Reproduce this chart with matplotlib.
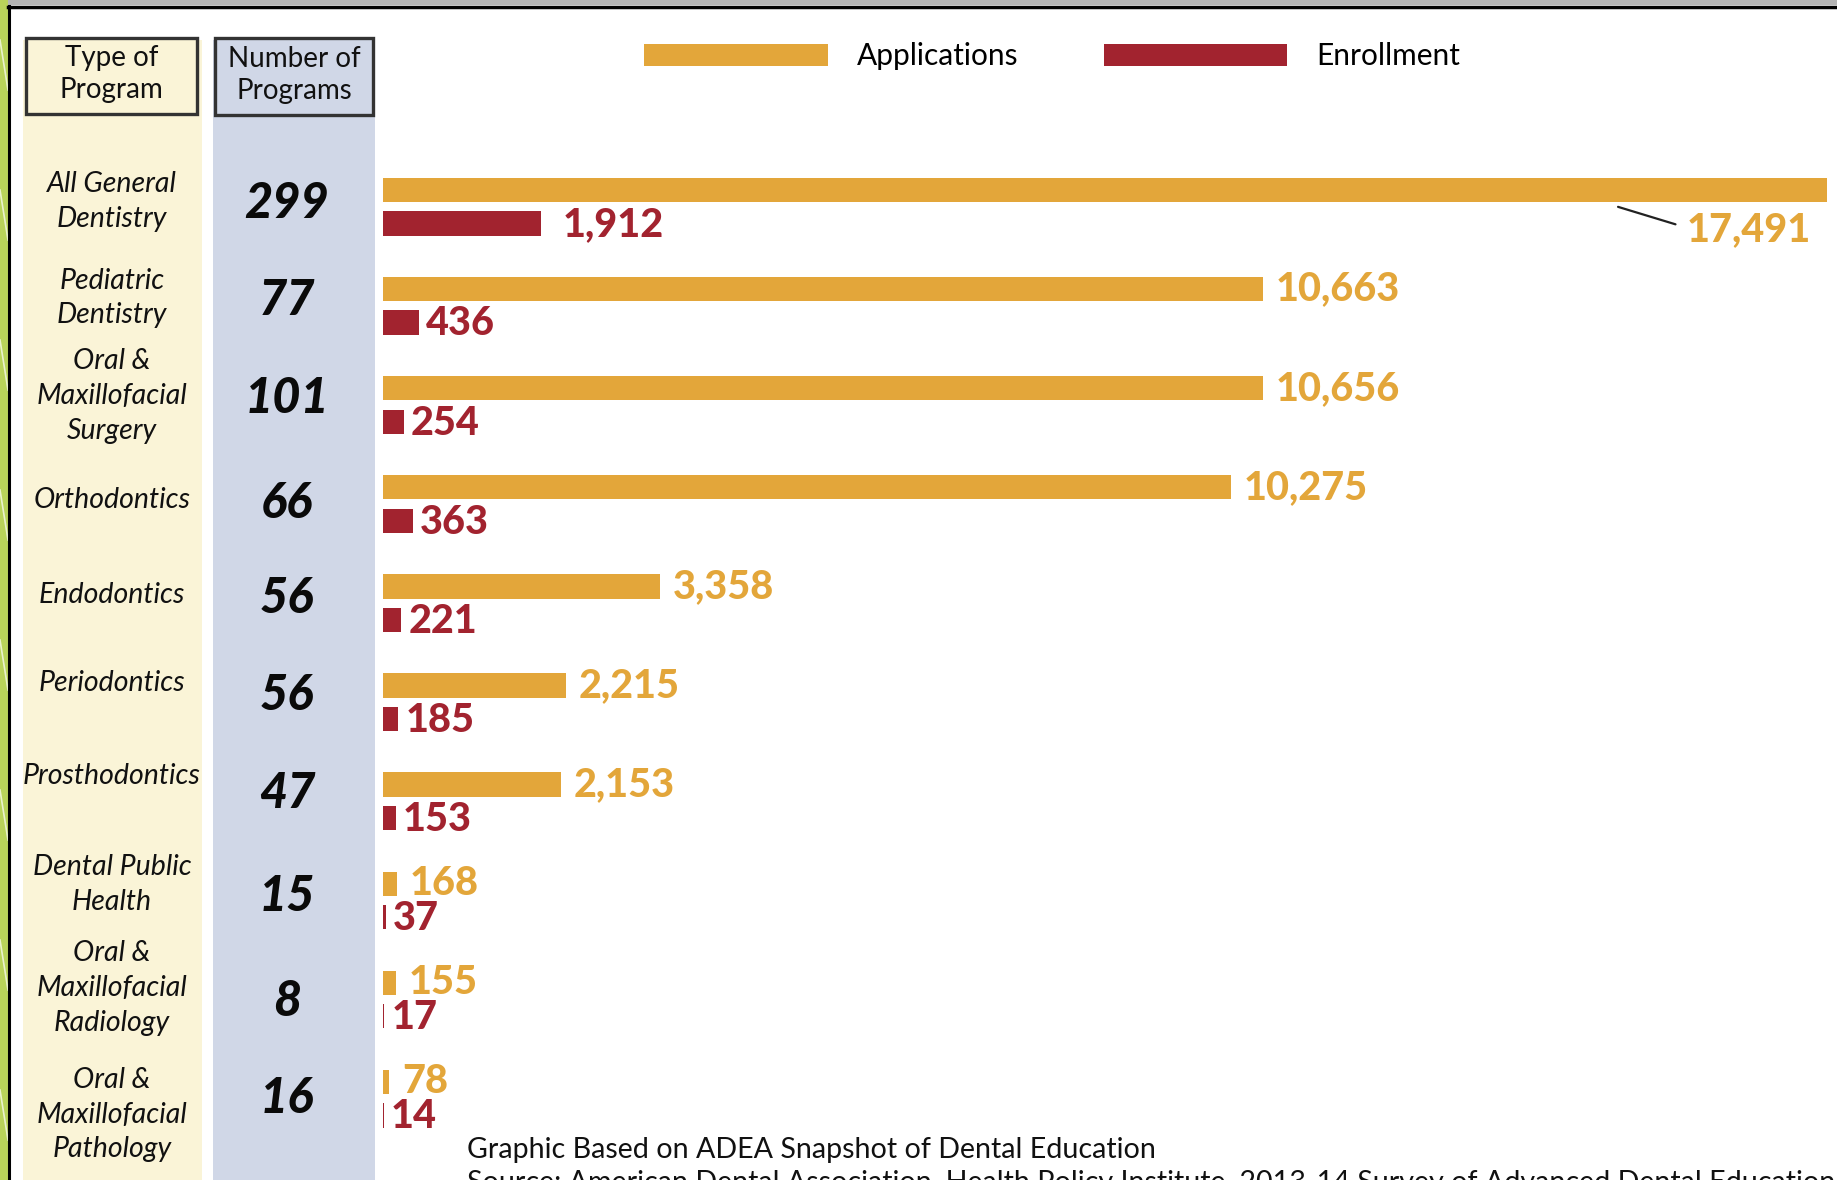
import matplotlib
matplotlib.use("Agg")
import matplotlib.pyplot as plt
from matplotlib.patches import Rectangle
from matplotlib.transforms import blended_transform_factory
import numpy as np

# ---- data ----
programs = ["All General\nDentistry", "Pediatric\nDentistry", "Oral &\nMaxillofacial\nSurgery",
            "Orthodontics", "Endodontics", "Periodontics", "Prosthodontics",
            "Dental Public\nHealth", "Oral &\nMaxillofacial\nRadiology", "Oral &\nMaxillofacial\nPathology"]
num_programs = [299, 77, 101, 66, 56, 56, 47, 15, 8, 16]
applications = [17491, 10663, 10656, 10275, 3358, 2215, 2153, 168, 155, 78]
enrollment = [1912, 436, 254, 363, 221, 185, 153, 37, 17, 14]

APP_C = "#E3A63A"
ENR_C = "#A2232F"
YEL = "#FAF4D7"
BLU = "#D0D7E7"

W, H = 1837, 1180
fig = plt.figure(figsize=(W / 100, H / 100), dpi=100)
fig.patch.set_facecolor("white")

# background / decoration axes in pixel coordinates
bg = fig.add_axes([0, 0, 1, 1], zorder=0)
bg.set_xlim(0, W)
bg.set_ylim(H, 0)
bg.axis("off")

# frame
bg.add_patch(Rectangle((0, 0), W, 5, color="#B4B4B4", lw=0))
bg.add_patch(Rectangle((0, 0), 8, H, color="#B9D35A", lw=0))
for k in range(8):
    bg.plot([0, 8], [40 + 150 * k, 90 + 150 * k], color="white", lw=1.2, alpha=0.7)
bg.plot([9, 9], [6, H], color="black", lw=2.2)
bg.plot([8, W], [6.5, 6.5], color="black", lw=2.5)

# columns
bg.add_patch(Rectangle((23, 40), 179, H, color=YEL, lw=0))
bg.add_patch(Rectangle((213, 40), 162, H, color=BLU, lw=0))
bg.add_patch(Rectangle((26, 38), 171, 76, facecolor=YEL, edgecolor="#333333", lw=2.4))
bg.add_patch(Rectangle((215, 38), 158, 77, facecolor=BLU, edgecolor="#333333", lw=2.4))
bg.text(111.5, 74, "Type of\nProgram", ha="center", va="center", fontsize=20,
        family="Lato", linespacing=1.25, color="#111111")
bg.text(294, 75, "Number of\nPrograms", ha="center", va="center", fontsize=20,
        family="Lato", linespacing=1.25, color="#111111")

# bar axes
x0 = 383
ax = fig.add_axes([x0 / W, 0, (W - x0) / W, 1], zorder=1)
ax.patch.set_alpha(0)
step = 99.1
top_v = -190 / step
bot_v = (H - 190) / step
ax.set_ylim(bot_v, top_v)
px_per_unit = (1827 - x0) / 17491
ax.set_xlim(0, (W - x0) / px_per_unit)
ax.axis("off")

idx = np.arange(len(programs))
off = 0.338
bh = 0.245
b1 = ax.barh(idx, applications, height=bh, color=APP_C, label="Applications")
b2 = ax.barh(idx + off, enrollment, height=bh, color=ENR_C, label="Enrollment")

lab_fs = 28.5
for i, (a, e) in enumerate(zip(applications, enrollment)):
    if i == 0:
        ax.annotate(f"{a:,}", xy=(14960, 0.17), xytext=(a - 200, i + off + 0.06),
                    textcoords="data", ha="right", va="center", fontsize=lab_fs,
                    fontweight="black", family="Lato", color=APP_C,
                    arrowprops=dict(arrowstyle="-", color="#222222", lw=1.6,
                                    relpos=(0, 0.55), shrinkA=6, shrinkB=0))
    else:
        ax.annotate(f"{a:,}", xy=(a, i), xytext=(9, 0), textcoords="offset points",
                    ha="left", va="center", fontsize=lab_fs, fontweight="black",
                    family="Lato", color=APP_C)
    ax.annotate(f"{e:,}", xy=(e, i + off), xytext=(5 if i else 16, -1), textcoords="offset points",
                ha="left", va="center", fontsize=lab_fs, fontweight="black",
                family="Lato", color=ENR_C)

# category labels and counts (x in pixels, y in bar data coords)
label_nudge = [0.04, 0.01, 0.0, 0.05, 0.01, -0.11, -0.17, -0.07, -0.03, 0.25]
count_nudge = [0.02, 0.0, -0.02, 0.04, 0.0, -0.02, -0.03, 0.01, 0.07, 0.05]
tr = blended_transform_factory(bg.transData, ax.transData)
for i, (p, n) in enumerate(zip(programs, num_programs)):
    fig.text(112, i + 0.08 + label_nudge[i], p, transform=tr, ha="center", va="center",
             fontsize=20.5, style="italic", family="Lato", linespacing=1.42, color="#111111")
    fig.text(287, i + 0.12 + count_nudge[i], str(n), transform=tr, ha="center", va="center",
             fontsize=35, style="italic", fontweight="black", family="Lato", color="#0a0a0a")

# legend
leg = fig.legend(handles=[b1, b2], loc="center left", bbox_to_anchor=(644 / W, 1 - 56 / H),
                 ncol=2, frameon=False, prop={"family": "Lato", "size": 21.5},
                 handlelength=6.15, handleheight=0.75, handletextpad=0.98, columnspacing=2.85,
                 borderpad=0, borderaxespad=0)

# footer
fig.text(467 / W, 1 - 1150 / H, "Graphic Based on ADEA Snapshot of Dental Education",
         ha="left", va="center", fontsize=20.6, family="Lato", color="#111111")
fig.text(467 / W, 1 - 1170 / H,
         "Source: American Dental Association, Health Policy Institute, 2013-14 Survey of Advanced Dental Education",
         ha="left", va="top", fontsize=20.6, family="Lato", color="#111111")

fig.savefig("out.png", dpi=100)
